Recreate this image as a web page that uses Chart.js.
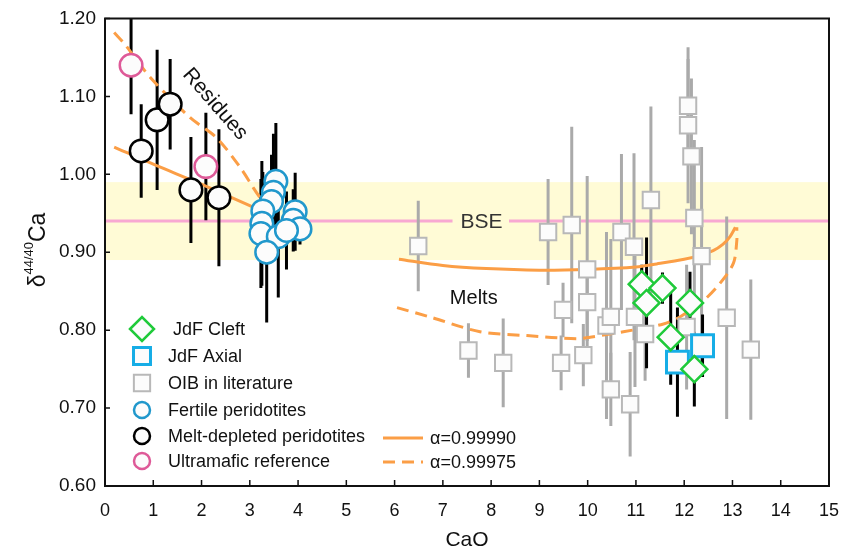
<!DOCTYPE html>
<html>
<head>
<meta charset="utf-8">
<script src="https://cdn.jsdelivr.net/npm/chart.js@4.4.1/dist/chart.umd.min.js"></script>
<style>
  html, body { margin: 0; padding: 0; background: #fff; }
</style>
</head>
<body>
<canvas id="chart" width="849" height="556"></canvas>
<script>
// 坐标轴刻度
const xTicks = [0, 1, 2, 3, 4, 5, 6, 7, 8, 9, 10, 11, 12, 13, 14, 15];
const yTicks = [0.6, 0.7, 0.8, 0.9, 1.0, 1.1, 1.2];

// JdF Cleft
const cleftCaO = [11.12, 11.55, 11.22, 12.12, 11.72, 12.21];
const cleftD = [0.859, 0.854, 0.835, 0.835, 0.791, 0.750];
const cleftErr = [0.025, 0.02, 0.084, 0.04, 0.061, 0.048];

// JdF Axial
const axialCaO = [11.86, 12.38];
const axialD = [0.759, 0.780];
const axialErr = [0.07, 0.04];

// OIB in literature
const oibCaO = [6.49, 7.53, 8.25, 9.18, 9.45, 9.49, 9.67, 9.91, 9.99, 9.99, 10.39, 10.48, 10.48, 10.70, 10.88, 10.96, 10.98, 11.19, 11.31, 12.08, 12.08, 12.15, 12.21, 12.36, 12.05, 12.88, 13.38];
const oibD = [0.908, 0.774, 0.758, 0.926, 0.758, 0.826, 0.935, 0.768, 0.878, 0.836, 0.806, 0.817, 0.724, 0.926, 0.705, 0.907, 0.817, 0.795, 0.967, 1.088, 1.063, 1.023, 0.944, 0.895, 0.804, 0.816, 0.775];
const oibErr = [0.058, 0.035, 0.057, 0.068, 0.035, 0.035, 0.126, 0.04, 0.12, 0.05, 0.12, 0.10, 0.047, 0.10, 0.067, 0.12, 0.09, 0.06, 0.12, 0.06, 0.10, 0.10, 0.10, 0.14, 0.08, 0.13, 0.09];

// Fertile peridotites
const fertileCaO = [3.54, 3.49, 3.45, 3.27, 3.94, 3.90, 4.04, 3.25, 3.23, 3.59, 3.35, 3.76];
const fertileD = [0.991, 0.977, 0.965, 0.953, 0.952, 0.941, 0.930, 0.937, 0.924, 0.920, 0.900, 0.928];
const fertileErr = [0.075, 0.075, 0.06, 0.05, 0.05, 0.04, 0.02, 0.08, 0.07, 0.078, 0.09, 0.05];

// Melt-depleted peridotites
const depletedCaO = [0.75, 1.08, 1.35, 1.78, 2.36];
const depletedD = [1.03, 1.07, 1.09, 0.98, 0.97];
const depletedErr = [0.06, 0.09, 0.058, 0.068, 0.088];

// Ultramafic reference
const ultraCaO = [0.54, 2.09];
const ultraD = [1.14, 1.01];
const ultraErr = [0.063, 0.069];

// 模拟曲线
const resSolidCaO = [0.19, 1.0, 1.97, 3.07, 3.4];
const resSolidD = [1.035, 1.013, 0.988, 0.958, 0.948];
const resDashCaO = [0.19, 0.41, 0.93, 1.76, 2.31, 2.80, 3.07, 3.3];
const resDashD = [1.182, 1.167, 1.125, 1.073, 1.047, 1.009, 0.983, 0.962];
const meltSolidCaO = [6.09, 7.0, 7.9, 9.0, 10.0, 11.0, 11.43, 12.0, 12.33, 12.6, 12.8, 12.95, 13.06];
const meltSolidD = [0.891, 0.883, 0.879, 0.877, 0.878, 0.881, 0.885, 0.891, 0.896, 0.902, 0.910, 0.920, 0.932];
const meltDashCaO = [6.05, 6.73, 7.77, 8.74, 9.77, 10.05, 10.74, 11.57, 11.91, 12.4, 12.74, 13.02, 13.09, 13.09];
const meltDashD = [0.829, 0.817, 0.798, 0.793, 0.789, 0.791, 0.798, 0.808, 0.817, 0.838, 0.860, 0.886, 0.915, 0.932];

// BSE 范围
const bseBand = [0.89, 0.99];
const bseValue = 0.94;

const FONT = '"Liberation Sans", Arial, sans-serif';
const ORANGE = '#fb9e46';

const pts = (xs, ys) => xs.map((x, i) => ({ x, y: ys[i] }));

const markerSet = (label, xs, ys, errs, style) => Object.assign({
  label,
  data: pts(xs, ys),
  errors: errs,
  errColor: '#000',
  backgroundColor: '#fcfcfc',
  pointHoverRadius: 0
}, style);

const curve = (label, xs, ys, dash) => ({
  label,
  data: pts(xs, ys),
  showLine: true,
  pointRadius: 0,
  borderColor: ORANGE,
  borderWidth: 3,
  borderDash: dash,
  tension: 0.3,
  fill: false,
  order: 6
});

const datasets = [
  markerSet('JdF Cleft', cleftCaO, cleftD, cleftErr, { pointStyle: 'rectRot', pointRadius: 13, borderColor: '#1fca3a', borderWidth: 2.5, order: 1 }),
  markerSet('JdF Axial', axialCaO, axialD, axialErr, { pointStyle: 'rect', pointRadius: 15.5, borderColor: '#16ade6', borderWidth: 3, order: 2 }),
  markerSet('OIB in literature', oibCaO, oibD, oibErr, { pointStyle: 'rect', pointRadius: 11.6, borderColor: '#b8b8b8', borderWidth: 2, errColor: '#aaaaaa', order: 5 }),
  markerSet('Fertile peridotites', fertileCaO, fertileD, fertileErr, { pointStyle: 'circle', pointRadius: 11.3, borderColor: '#2198cc', borderWidth: 2.5, order: 3 }),
  markerSet('Melt-depleted peridotites', depletedCaO, depletedD, depletedErr, { pointStyle: 'circle', pointRadius: 11.3, borderColor: '#000', borderWidth: 2.5, order: 3 }),
  markerSet('Ultramafic reference', ultraCaO, ultraD, ultraErr, { pointStyle: 'circle', pointRadius: 11.3, borderColor: '#de5a98', borderWidth: 2.5, order: 3 }),
  curve('α=0.99990', resSolidCaO, resSolidD, []),
  curve('α=0.99975', resDashCaO, resDashD, [12, 7]),
  curve('melt solid', meltSolidCaO, meltSolidD, []),
  curve('melt dashed', meltDashCaO, meltDashD, [12, 7])
];

// 背景、误差棒、边框、图例等
const decor = {
  id: 'decor',
  beforeDatasetsDraw (chart) {
    const { ctx, chartArea: a, scales: { x, y } } = chart;
    ctx.save();
    ctx.beginPath();
    ctx.rect(a.left, a.top, a.right - a.left, a.bottom - a.top);
    ctx.clip();
    // BSE band
    ctx.fillStyle = '#fffbd6';
    const yTop = y.getPixelForValue(bseBand[1]);
    const yBot = y.getPixelForValue(bseBand[0]);
    ctx.fillRect(a.left, yTop, a.right - a.left, yBot - yTop);
    const yb = y.getPixelForValue(bseValue);
    ctx.strokeStyle = '#f8a8d2';
    ctx.lineWidth = 3;
    ctx.beginPath();
    ctx.moveTo(a.left, yb);
    ctx.lineTo(x.getPixelForValue(7.2), yb);
    ctx.moveTo(x.getPixelForValue(8.37), yb);
    ctx.lineTo(a.right, yb);
    ctx.stroke();
    ctx.fillStyle = '#333';
    ctx.font = '21px ' + FONT;
    ctx.textAlign = 'center';
    ctx.textBaseline = 'middle';
    ctx.fillText('BSE', x.getPixelForValue(7.8), yb + 1);
    // error bars, grey first
    const withErr = chart.data.datasets.filter(d => d.errors);
    withErr.sort((p, q) => (p.errColor === '#000') - (q.errColor === '#000'));
    withErr.forEach(d => {
      ctx.strokeStyle = d.errColor;
      ctx.lineWidth = 3;
      d.data.forEach((p, i) => {
        const px = x.getPixelForValue(p.x);
        ctx.beginPath();
        ctx.moveTo(px, y.getPixelForValue(p.y - d.errors[i]));
        ctx.lineTo(px, y.getPixelForValue(p.y + d.errors[i]));
        ctx.stroke();
      });
    });
    ctx.restore();
  },
  afterDatasetsDraw (chart) {
    const { ctx, chartArea: a, scales: { x, y } } = chart;
    ctx.save();
    // 文字标注
    ctx.fillStyle = '#111';
    ctx.font = '20px ' + FONT;
    ctx.textAlign = 'center';
    ctx.textBaseline = 'middle';
    ctx.fillText('Melts', x.getPixelForValue(7.64), y.getPixelForValue(0.841));
    ctx.save();
    ctx.translate(x.getPixelForValue(2.28), y.getPixelForValue(1.09));
    ctx.rotate(49 * Math.PI / 180);
    ctx.font = '21px ' + FONT;
    ctx.fillText('Residues', 0, 0);
    ctx.restore();

    // 框线与内刻度
    ctx.strokeStyle = '#111';
    ctx.lineWidth = 2;
    ctx.strokeRect(a.left, a.top, a.right - a.left, a.bottom - a.top);
    ctx.lineWidth = 1.5;
    ctx.beginPath();
    xTicks.forEach(v => {
      const px = x.getPixelForValue(v);
      ctx.moveTo(px, a.bottom);
      ctx.lineTo(px, a.bottom - 6);
    });
    yTicks.forEach(v => {
      const py = y.getPixelForValue(v);
      ctx.moveTo(a.left, py);
      ctx.lineTo(a.left + 5, py);
    });
    ctx.stroke();

    // y 轴标题
    ctx.save();
    ctx.translate(37, 250);
    ctx.rotate(-Math.PI / 2);
    ctx.fillStyle = '#111';
    ctx.textBaseline = 'alphabetic';
    ctx.textAlign = 'left';
    ctx.font = '23px ' + FONT;
    const wD = ctx.measureText('δ').width;
    ctx.font = '13px ' + FONT;
    const wS = ctx.measureText('44/40').width;
    ctx.font = '23px ' + FONT;
    const wC = ctx.measureText('Ca').width;
    let cx = -(wD + wS + wC) / 2;
    ctx.fillText('δ', cx, 8);
    cx += wD;
    ctx.font = '13px ' + FONT;
    ctx.fillText('44/40', cx, -4);
    cx += wS;
    ctx.font = '23px ' + FONT;
    ctx.fillText('Ca', cx, 8);
    ctx.restore();

    // 图例
    const rows = [329, 356, 383, 410, 436, 461];
    const sizes = [12, 12, 11.5, 8, 8, 8];
    ctx.font = '18px ' + FONT;
    ctx.textBaseline = 'middle';
    ctx.textAlign = 'left';
    for (let i = 0; i < 6; i++) {
      const d = chart.data.datasets[i];
      ctx.strokeStyle = d.borderColor;
      ctx.fillStyle = '#fcfcfc';
      ctx.lineWidth = d.borderWidth;
      Chart.helpers.drawPoint(ctx, { pointStyle: d.pointStyle, radius: sizes[i], borderWidth: d.borderWidth }, 142, rows[i]);
      ctx.fillStyle = '#111';
      ctx.fillText(d.label, i === 0 ? 173 : 168, rows[i] + 1);
    }
    ctx.strokeStyle = ORANGE;
    ctx.lineWidth = 3;
    [[438, []], [462, [12, 7]]].forEach(([ly, dash], k) => {
      ctx.setLineDash(dash);
      ctx.beginPath();
      ctx.moveTo(383, ly);
      ctx.lineTo(423, ly);
      ctx.stroke();
      ctx.fillStyle = '#111';
      ctx.fillText(chart.data.datasets[6 + k].label, 430, ly + 1);
    });
    ctx.restore();
  }
};

const tickFont = { family: FONT, size: 18 };

new Chart(document.getElementById('chart'), {
  type: 'scatter',
  data: { datasets },
  options: {
    responsive: false,
    animation: false,
    events: [],
    layout: { padding: { left: 0, right: 20, top: 18, bottom: 0 } },
    plugins: { legend: { display: false }, tooltip: { enabled: false } },
    scales: {
      x: {
        type: 'linear',
        min: 0,
        max: 15,
        afterBuildTicks: s => { s.ticks = xTicks.map(v => ({ value: v })); },
        afterFit: s => { s.height = 70; s.paddingLeft = 0; s.paddingRight = 0; },
        grid: { display: false, drawTicks: false },
        border: { display: false },
        ticks: { font: tickFont, color: '#111', padding: 14, maxRotation: 0, autoSkip: false, callback: v => String(v) },
        title: { display: true, text: 'CaO', font: { family: FONT, size: 21 }, color: '#111', padding: { top: 0, bottom: 3 } }
      },
      y: {
        type: 'linear',
        min: 0.6,
        max: 1.2,
        afterBuildTicks: s => { s.ticks = yTicks.map(v => ({ value: v })); },
        afterFit: s => { s.width = 105; s.paddingTop = 0; s.paddingBottom = 0; },
        grid: { display: false, drawTicks: false },
        border: { display: false },
        ticks: { font: { family: FONT, size: 19 }, color: '#111', padding: 9, callback: v => v.toFixed(2) }
      }
    }
  },
  plugins: [decor]
});
</script>
</body>
</html>
